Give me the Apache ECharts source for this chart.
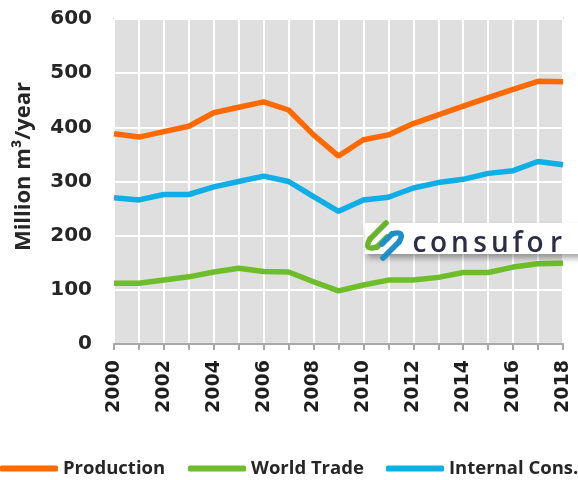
<!DOCTYPE html>
<html>
<head>
<meta charset="utf-8">
<script src="https://cdn.jsdelivr.net/npm/echarts@6/dist/echarts.min.js"></script>
<style>
  html, body { margin: 0; padding: 0; background: #ffffff; }
  #chart { width: 578px; height: 480px; }
</style>
</head>
<body>
<div id="chart"></div>
<script>
// Wood volumes, million m³ per year
const years = ['2000','2001','2002','2003','2004','2005','2006','2007','2008','2009',
               '2010','2011','2012','2013','2014','2015','2016','2017','2018'];
const production   = [388, 382, 392, 402, 427, 437, 447, 432, 386, 347, 377, 386, 407, 423, 439, 455, 470, 485, 484];
const worldTrade   = [112, 112, 118, 124, 133, 140, 134, 133, 115,  98, 109, 118, 118, 123, 132, 132, 142, 148, 149];
const internalCons = [270, 266, 276, 276, 290, 300, 310, 300, 272, 245, 266, 271, 288, 298, 304, 315, 320, 337, 331];
const yTicks = [0, 100, 200, 300, 400, 500, 600];

const seriesNames  = ['Production', 'World Trade', 'Internal Cons.'];
const seriesColors = ['#FF6A00', '#6DBE2A', '#0FAEE6'];
const seriesData   = [production, worldTrade, internalCons];

const chart = echarts.init(document.getElementById('chart'), null, { renderer: 'canvas' });

const legendLeft = [0, 188, 386];
const legends = seriesNames.map((name, i) => ({
  data: [name],
  left: legendLeft[i],
  top: 459,
  padding: 0,
  icon: 'roundRect',
  itemWidth: 58,
  itemHeight: 6,
  selectedMode: false,
  textStyle: { fontFamily: 'Open Sans', fontWeight: 'bold', fontSize: 18.5, color: '#262626' }
}));

// Logo: white plate with shadow, two interlocking hooks and spaced lettering
function hook(color, a, turnStart, ctrl, turnEnd, b) {
  const st = { stroke: color, lineWidth: 5.5, fill: null, lineCap: 'round' };
  return [
    { type: 'line', z: 11, shape: { x1: a[0], y1: a[1], x2: turnStart[0], y2: turnStart[1] }, style: st },
    { type: 'bezierCurve', z: 11, shape: { x1: turnStart[0], y1: turnStart[1], cpx1: ctrl[0], cpy1: ctrl[1], x2: turnEnd[0], y2: turnEnd[1] }, style: st },
    { type: 'line', z: 11, shape: { x1: turnEnd[0], y1: turnEnd[1], x2: b[0], y2: b[1] }, style: st }
  ];
}
const logoLetters = 'consufor'.split('');
const letterX = [419.5, 438.5, 460, 480, 500, 517.5, 535, 556];
const logo = [
  {
    type: 'rect', z: 10,
    shape: { x: 365, y: 223, width: 230, height: 31 },
    style: { fill: '#ffffff', shadowBlur: 6, shadowOffsetX: 2, shadowOffsetY: 4, shadowColor: 'rgba(0,0,0,0.35)' }
  }
]
.concat(hook('#6AB42D', [386, 223], [370, 239], [363, 251], [377, 247], [387, 237]))
.concat(hook('#1E8FC8', [383, 258], [399, 242], [406, 230], [392, 234], [382, 244]))
.concat(logoLetters.map((ch, i) => ({
  type: 'text', z: 12,
  x: letterX[i], y: 244,
  style: { text: ch, fill: '#2C2E48', font: '600 28px "Open Sans"', align: 'center', verticalAlign: 'middle' }
})));

chart.setOption({
  animation: false,
  backgroundColor: '#ffffff',
  legend: legends,
  grid: {
    left: 114, right: 15, top: 19, bottom: 136,
    show: true,
    backgroundColor: '#DFDFDF',
    borderColor: '#C8C8C8',
    borderWidth: 2
  },
  xAxis: {
    type: 'category',
    data: years,
    boundaryGap: false,
    axisLine: { lineStyle: { color: '#A8A8A8', width: 2 } },
    axisTick: { show: true, interval: 0, length: 6, lineStyle: { color: '#A8A8A8', width: 2 } },
    axisLabel: {
      interval: 1, rotate: 90, margin: 16,
      fontFamily: 'DejaVu Sans', fontWeight: 'bold', fontSize: 19, color: '#1e1e1e'
    },
    splitLine: { show: true, interval: 0, lineStyle: { color: '#FFFFFF', width: 2 } }
  },
  yAxis: {
    type: 'value',
    min: yTicks[0], max: yTicks[yTicks.length - 1], interval: 100,
    name: 'Million m³/year',
    nameLocation: 'middle',
    nameRotate: 90,
    nameGap: 79,
    nameTextStyle: { fontFamily: 'Open Sans', fontWeight: 'bold', fontSize: 22, color: '#262626', padding: [0, 0, 0, 30] },
    axisLine: { show: false },
    axisTick: { show: false },
    axisLabel: { margin: 22, fontFamily: 'DejaVu Sans', fontWeight: 'bold', fontSize: 20, color: '#262626' },
    splitLine: { show: true, lineStyle: { color: '#FFFFFF', width: 2 } }
  },
  series: seriesNames.map((name, i) => ({
    name: name,
    type: 'line',
    data: seriesData[i],
    symbol: 'none',
    smooth: false,
    color: seriesColors[i],
    lineStyle: { width: 5.5, color: seriesColors[i] },
    z: 3
  })),
  graphic: logo
});
</script>
</body>
</html>
